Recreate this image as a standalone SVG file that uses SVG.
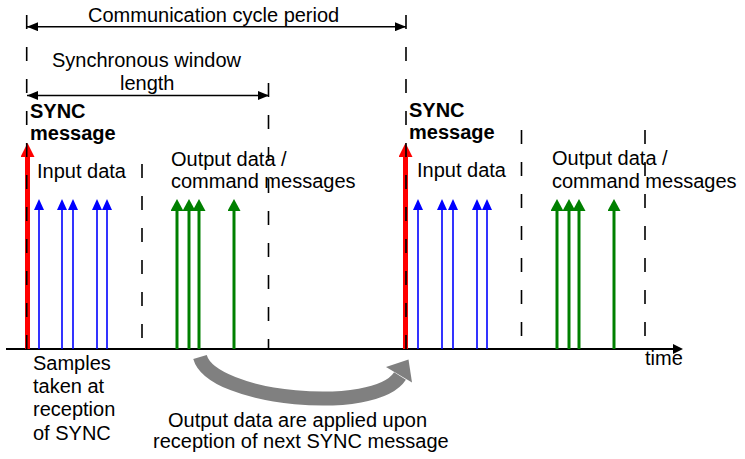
<svg xmlns="http://www.w3.org/2000/svg" width="745" height="459" viewBox="0 0 745 459">
<style>
text{font-family:"Liberation Sans",Arial,sans-serif;font-size:20px;fill:#000}
.b{font-weight:bold}
.dash{stroke:#000;stroke-width:1.6;stroke-dasharray:14 18;fill:none}
.dim{stroke:#000;stroke-width:1.5;fill:none}
.red{stroke:#ff0000;stroke-width:5;fill:none}
.blue{stroke:#0000ff;stroke-width:1.6;fill:none}
.green{stroke:#008000;stroke-width:3;fill:none}
</style>
<defs>
<marker id="mR" markerUnits="userSpaceOnUse" viewBox="0 -7 14 14" refX="2" refY="0" markerWidth="14" markerHeight="14" orient="auto"><path d="M0,-7 L14,0 L0,7 z" fill="#ff0000"/></marker>
<marker id="mB" markerUnits="userSpaceOnUse" viewBox="0 -5 11 10" refX="1" refY="0" markerWidth="11" markerHeight="10" orient="auto"><path d="M0,-5 L11,0 L0,5 z" fill="#0000ff"/></marker>
<marker id="mG" markerUnits="userSpaceOnUse" viewBox="0 -6.5 12 13" refX="2" refY="0" markerWidth="12" markerHeight="13" orient="auto"><path d="M0,-6.5 L12,0 L0,6.5 z" fill="#008000"/></marker>
<marker id="mK" markerUnits="userSpaceOnUse" viewBox="0 -4.5 11 9" refX="11" refY="0" markerWidth="11" markerHeight="9" orient="auto-start-reverse"><path d="M0,-4.5 L11,0 L0,4.5 z" fill="#000"/></marker>
<marker id="mA" markerUnits="userSpaceOnUse" viewBox="0 -5 10 10" refX="0" refY="0" markerWidth="10" markerHeight="10" orient="auto"><path d="M0,-5 L10,0 L0,5 z" fill="#000"/></marker>
</defs>

<g id="axis">
<line x1="6" y1="349" x2="673" y2="349" stroke="#000" stroke-width="2" marker-end="url(#mA)"/>
<text x="645" y="365">time</text>
</g>

<g id="sync1">
<line class="red" x1="27.5" y1="349" x2="27.5" y2="155" marker-end="url(#mR)"/>
<text class="b" x="30" y="118">SYNC</text>
<text class="b" x="30" y="140">message</text>
</g>
<g id="sync2">
<line class="red" x1="405.5" y1="349" x2="405.5" y2="155" marker-end="url(#mR)"/>
<text class="b" x="409" y="117">SYNC</text>
<text class="b" x="409" y="139">message</text>
</g>

<g id="input1">
<g class="blue">
<line x1="39" y1="349" x2="39" y2="209" marker-end="url(#mB)"/>
<line x1="62" y1="349" x2="62" y2="209" marker-end="url(#mB)"/>
<line x1="73" y1="349" x2="73" y2="209" marker-end="url(#mB)"/>
<line x1="97" y1="349" x2="97" y2="209" marker-end="url(#mB)"/>
<line x1="107" y1="349" x2="107" y2="209" marker-end="url(#mB)"/>
</g>
<text x="37" y="178">Input data</text>
</g>
<g id="input2">
<g class="blue">
<line x1="418" y1="349" x2="418" y2="209" marker-end="url(#mB)"/>
<line x1="442" y1="349" x2="442" y2="209" marker-end="url(#mB)"/>
<line x1="453" y1="349" x2="453" y2="209" marker-end="url(#mB)"/>
<line x1="477" y1="349" x2="477" y2="209" marker-end="url(#mB)"/>
<line x1="487" y1="349" x2="487" y2="209" marker-end="url(#mB)"/>
</g>
<text x="417" y="177">Input data</text>
</g>

<g id="output1">
<g class="green">
<line x1="177" y1="349" x2="177" y2="209" marker-end="url(#mG)"/>
<line x1="189" y1="349" x2="189" y2="209" marker-end="url(#mG)"/>
<line x1="199" y1="349" x2="199" y2="209" marker-end="url(#mG)"/>
<line x1="234" y1="349" x2="234" y2="209" marker-end="url(#mG)"/>
</g>
<text x="171" y="166">Output data /</text>
<text x="171" y="188">command messages</text>
</g>
<g id="output2">
<g class="green">
<line x1="557" y1="349" x2="557" y2="209" marker-end="url(#mG)"/>
<line x1="569" y1="349" x2="569" y2="209" marker-end="url(#mG)"/>
<line x1="579" y1="349" x2="579" y2="209" marker-end="url(#mG)"/>
<line x1="614" y1="349" x2="614" y2="209" marker-end="url(#mG)"/>
</g>
<text x="552" y="165">Output data /</text>
<text x="552" y="188">command messages</text>
</g>

<g id="connectors">
<line class="dash" x1="26.7" y1="15" x2="26.7" y2="349"/>
<line class="dash" x1="142" y1="164" x2="142" y2="349"/>
<line class="dash" x1="268.5" y1="83" x2="268.5" y2="349"/>
<line class="dash" x1="406" y1="15" x2="406" y2="349"/>
<line class="dash" x1="521.5" y1="130" x2="521.5" y2="349"/>
<line class="dash" x1="645" y1="130" x2="645" y2="349"/>
<line class="dim" x1="27" y1="26.7" x2="406" y2="26.7" marker-start="url(#mK)" marker-end="url(#mK)"/>
<line class="dim" x1="27" y1="95.5" x2="269" y2="95.5" marker-start="url(#mK)" marker-end="url(#mK)"/>
<path d="M200,357 C212,400 375,415 400,376" stroke="#808080" stroke-width="14" fill="none"/>
<polygon points="408.5,359.5 386,367 412,382.5" fill="#808080"/>
</g>

<g id="labels">
<text x="88" y="22">Communication cycle period</text>
<text x="52" y="67">Synchronous window</text>
<text x="120" y="90">length</text>
<text x="33" y="370">Samples</text>
<text x="33" y="393">taken at</text>
<text x="33" y="416">reception</text>
<text x="33" y="440">of SYNC</text>
<text x="168" y="427">Output data are applied upon</text>
<text x="153" y="448">reception of next SYNC message</text>
</g>
</svg>
